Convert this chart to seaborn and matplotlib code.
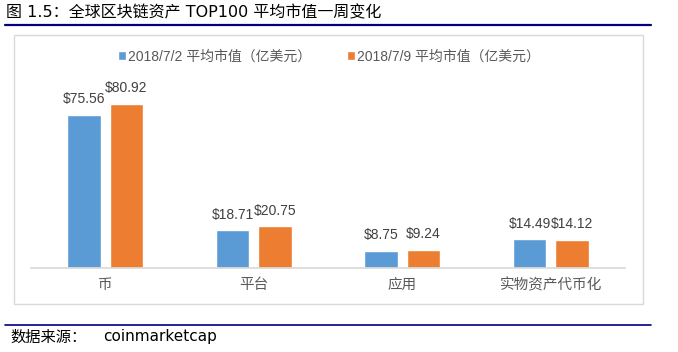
import numpy as np
import pandas as pd
import seaborn as sns
import matplotlib.pyplot as plt
from matplotlib.patches import Rectangle
from matplotlib.lines import Line2D

categories = ["币", "平台", "应用", "实物资产代币化"]
series_names = ["2018/7/2 平均市值（亿美元）", "2018/7/9 平均市值（亿美元）"]
values_0702 = [75.56, 18.71, 8.75, 14.49]
values_0709 = [80.92, 20.75, 9.24, 14.12]

df = pd.DataFrame({
    "cat": categories * 2,
    "series": [series_names[0]] * 4 + [series_names[1]] * 4,
    "value": values_0702 + values_0709,
})

sns.set_theme(style="white")
plt.rcParams["font.family"] = ["Noto Sans CJK SC", "DejaVu Sans"]
num_font = ["Liberation Sans", "Noto Sans CJK SC"]
wide_font = ["DejaVu Sans", "Noto Sans CJK SC"]

fig = plt.figure(figsize=(6.78, 3.52), dpi=100)
W, H = 678, 352

def fx(x):
    return x / W

def fy(y):
    return 1 - y / H

# outer frame and rules
fig.add_artist(Rectangle((fx(14), fy(304)), (643 - 14) / W, (304 - 35) / H, transform=fig.transFigure,
                         fill=False, edgecolor="#d9d9d9", linewidth=1))
fig.add_artist(Line2D([fx(5), fx(651)], [fy(24.5), fy(24.5)], transform=fig.transFigure,
                      color="#000080", linewidth=1.6))
fig.add_artist(Line2D([fx(5), fx(651)], [fy(325), fy(325)], transform=fig.transFigure,
                      color="#000080", linewidth=1.2))
fig.text(fx(6), fy(13), "图 1.5：全球区块链资产 TOP100 平均市值一周变化", fontsize=11.5,
         va="center", ha="left", color="black", family=wide_font)
fig.text(fx(10), fy(337), "数据来源：", fontsize=11,
         va="center", ha="left", color="black")
fig.text(fx(103), fy(337), "coinmarketcap", fontsize=11,
         va="center", ha="left", color="black", family=wide_font)

ax = fig.add_axes([fx(31), fy(268.3), (625 - 31) / W, (268.3 - 60) / H])
palette = ["#5b9bd5", "#ed7d31"]
sns.barplot(data=df, x="cat", y="value", hue="series", palette=palette,
            width=0.569, gap=0.209, ax=ax, saturation=1)

for cont in ax.containers:
    ax.bar_label(cont, labels=[f"${v:.2f}" for v in cont.datavalues],
                 padding=6, fontsize=10, color="#404040", family=num_font)

ax.set_xlim(-0.5, 3.5)
ax.set_ylim(0, (268.3 - 60) / 2.033)
ax.set_xlabel("")
ax.set_ylabel("")
ax.set_yticks([])
for s in ["top", "left", "right"]:
    ax.spines[s].set_visible(False)
ax.spines["bottom"].set_color("#d9d9d9")
ax.tick_params(axis="x", length=0, labelsize=10.5, labelcolor="#595959", pad=7)

leg = ax.legend(loc="center", bbox_to_anchor=(fx(329), fy(56.5)), bbox_transform=fig.transFigure,
                ncol=2, frameon=False, handlelength=0.55, handleheight=0.55,
                handletextpad=0.15, columnspacing=2.6, borderpad=0,
                prop={"family": num_font, "size": 10})
for t in leg.get_texts():
    t.set_color("#595959")

fig.savefig("out.png", dpi=100)
